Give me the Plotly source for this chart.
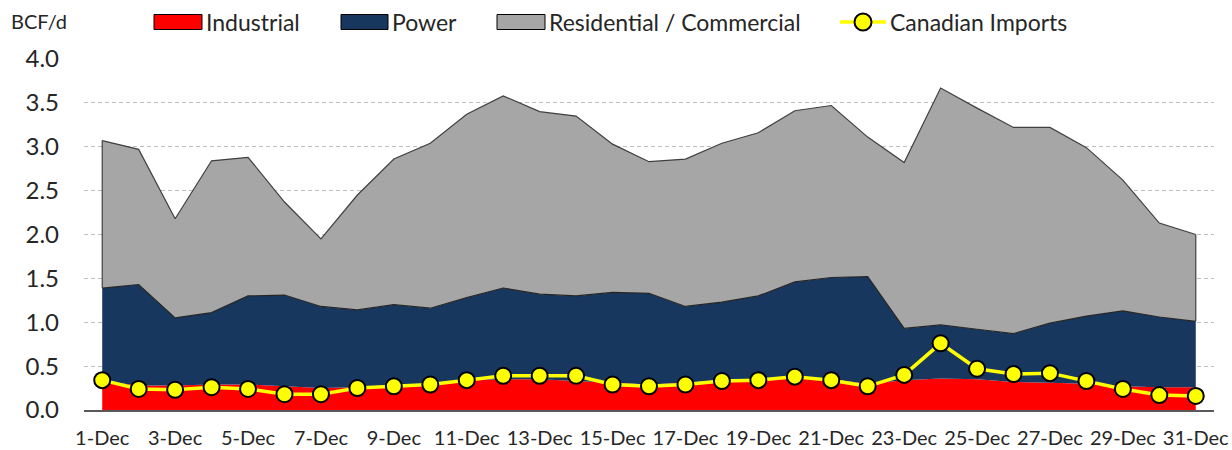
import plotly.graph_objects as go

days = ["1-Dec", "2-Dec", "3-Dec", "4-Dec", "5-Dec", "6-Dec", "7-Dec", "8-Dec",
        "9-Dec", "10-Dec", "11-Dec", "12-Dec", "13-Dec", "14-Dec", "15-Dec", "16-Dec",
        "17-Dec", "18-Dec", "19-Dec", "20-Dec", "21-Dec", "22-Dec", "23-Dec", "24-Dec",
        "25-Dec", "26-Dec", "27-Dec", "28-Dec", "29-Dec", "30-Dec", "31-Dec"]
tick_labels = days[::2]

industrial = [0.33, 0.28, 0.28, 0.29, 0.29, 0.27, 0.25, 0.26, 0.28, 0.30, 0.34, 0.35, 0.35, 0.33, 0.31, 0.29,
              0.31, 0.34, 0.36, 0.37, 0.35, 0.30, 0.34, 0.36, 0.35, 0.32, 0.31, 0.30, 0.27, 0.26, 0.26]
power = [1.06, 1.15, 0.77, 0.82, 1.01, 1.04, 0.93, 0.88, 0.92, 0.86, 0.94, 1.04, 0.97, 0.97, 1.03, 1.04,
         0.87, 0.89, 0.94, 1.09, 1.16, 1.22, 0.59, 0.61, 0.57, 0.55, 0.68, 0.77, 0.86, 0.80, 0.75]
residential = [1.68, 1.54, 1.13, 1.73, 1.58, 1.06, 0.77, 1.31, 1.66, 1.88, 2.09, 2.19, 2.08, 2.05, 1.69, 1.50,
               1.68, 1.81, 1.86, 1.95, 1.96, 1.59, 1.89, 2.70, 2.52, 2.35, 2.23, 1.92, 1.49, 1.07, 0.99]
imports = [0.34, 0.24, 0.23, 0.26, 0.24, 0.18, 0.18, 0.25, 0.27, 0.29, 0.34, 0.39, 0.39, 0.39, 0.29, 0.27,
           0.29, 0.33, 0.34, 0.38, 0.34, 0.27, 0.40, 0.76, 0.47, 0.41, 0.42, 0.33, 0.24, 0.17, 0.16]

RED = "#FF0000"
NAVY = "#17375E"
GRAY = "#A6A6A6"
YEL = "#FFFF00"
EDGE = "#404040"
FONT = "Lato"
TXT = "#262626"

fig = go.Figure()
fig.add_trace(go.Scatter(x=days, y=industrial, stackgroup="one", mode="lines",
                         line=dict(width=0, color=RED), fillcolor=RED, name="Industrial",
                         showlegend=False))
fig.add_trace(go.Scatter(x=days, y=power, stackgroup="one", mode="lines",
                         line=dict(width=1.2, color="#262626"), fillcolor=NAVY, name="Power",
                         showlegend=False))
fig.add_trace(go.Scatter(x=days, y=residential, stackgroup="one", mode="lines",
                         line=dict(width=1.2, color=EDGE), fillcolor=GRAY,
                         name="Residential / Commercial", showlegend=False))

# vertical edges of the grey area (from data)
p0 = industrial[0] + power[0]
pN = industrial[-1] + power[-1]
fig.add_trace(go.Scatter(x=[days[0], days[0], None, days[-1], days[-1]],
                         y=[p0, p0 + residential[0], None, pN, pN + residential[-1]],
                         mode="lines", line=dict(width=1.2, color=EDGE), showlegend=False,
                         hoverinfo="skip"))

fig.add_trace(go.Scatter(x=days, y=imports, mode="lines+markers", name="Canadian Imports",
                         line=dict(color=YEL, width=3.5),
                         marker=dict(size=16, color=YEL, line=dict(color="#000000", width=2)),
                         showlegend=False))

# plot-area geometry in pixels (for legend placement)
L, R, T, B = 84, 1214, 59, 410


def px(x):
    return (x - L) / (R - L)


def py(y):
    return (B - y) / (B - T)


shapes = []
annotations = []
leg_y = 22
items = [(154, 202, RED, "Industrial"),
         (341, 388, NAVY, "Power"),
         (497, 545, GRAY, "Residential / Commercial")]
for x0, x1, col, label in items:
    shapes.append(dict(type="rect", xref="paper", yref="paper",
                       x0=px(x0), x1=px(x1), y0=py(leg_y + 7.5), y1=py(leg_y - 7.5),
                       fillcolor=col, line=dict(color="#000000", width=1)))
    annotations.append(dict(text=label, xref="paper", yref="paper", x=px(x1 + 2), y=py(leg_y),
                            xanchor="left", yanchor="middle", showarrow=False,
                            font=dict(family=FONT, size=23, color=TXT)))
shapes.append(dict(type="line", xref="paper", yref="paper", x0=px(840), x1=px(886),
                   y0=py(leg_y), y1=py(leg_y), line=dict(color=YEL, width=3.5)))
shapes.append(dict(type="circle", xref="paper", yref="paper", x0=px(854.5), x1=px(871.5),
                   y0=py(leg_y - 8.5), y1=py(leg_y + 8.5), fillcolor=YEL,
                   line=dict(color="#000000", width=2)))
annotations.append(dict(text="Canadian Imports", xref="paper", yref="paper", x=px(888), y=py(leg_y),
                        xanchor="left", yanchor="middle", showarrow=False,
                        font=dict(family=FONT, size=23, color=TXT)))
annotations.append(dict(text="BCF/d", xref="paper", yref="paper", x=px(9), y=py(21),
                        xanchor="left", yanchor="middle", showarrow=False,
                        font=dict(family=FONT, size=20, color=TXT)))

fig.update_layout(
    width=1232, height=450,
    margin=dict(l=L, r=1232 - R, t=T, b=450 - B, autoexpand=False),
    paper_bgcolor="white", plot_bgcolor="white",
    font=dict(family=FONT, size=21, color=TXT),
    shapes=shapes, annotations=annotations,
    showlegend=False,
    xaxis=dict(type="category", categoryorder="array", categoryarray=days,
               range=[-0.5, len(days) - 0.5], automargin=False,
               tickmode="array", tickvals=tick_labels, ticktext=tick_labels,
               showline=True, linecolor="#595959", linewidth=1.5,
               showgrid=False, zeroline=False, ticks="", ticklabelstandoff=9,
               tickfont=dict(family=FONT, size=20, color=TXT)),
    yaxis=dict(range=[0, 4], dtick=0.5, tick0=0, tickformat=".1f", automargin=False,
               showgrid=True, gridcolor="#BFBFBF", griddash="4px,3px", gridwidth=1,
               showline=False, zeroline=False, ticks="", ticklabelstandoff=24,
               tickfont=dict(family=FONT, size=24, color=TXT)),
)

fig.write_html("out.html", config={"displayModeBar": False},
               post_script="document.body.style.margin='0';document.body.style.overflow='hidden';")
